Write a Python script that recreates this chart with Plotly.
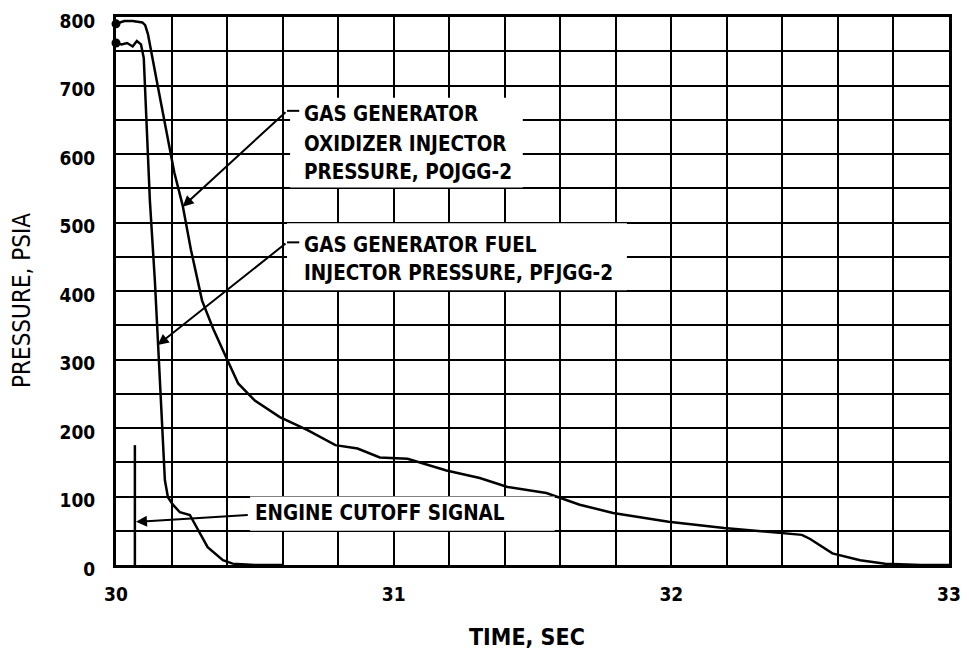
import plotly.graph_objects as go

# oxidizer injector pressure, POJGG-2
ox_time = [30.0, 30.03, 30.06, 30.095, 30.105, 30.115, 30.15, 30.18, 30.21, 30.24, 30.27,
           30.31, 30.35, 30.39, 30.44, 30.5, 30.59, 30.69, 30.79, 30.87, 30.95, 31.05,
           31.19, 31.31, 31.41, 31.55, 31.67, 31.79, 31.89, 31.99, 32.19, 32.39, 32.47,
           32.5, 32.54, 32.58, 32.68, 32.77, 32.9, 33.0]
ox_psia = [790, 794, 794, 792, 788, 775, 700, 634, 573, 525, 460,
           386, 345, 309, 265, 240, 216, 197, 175, 170, 157, 155,
           138, 127, 114, 105, 88, 76, 70, 63, 54, 47, 44,
           38, 27, 17, 7, 2, 0, 0]

# fuel injector pressure, PFJGG-2
fuel_time = [30.0, 30.02, 30.04, 30.06, 30.075, 30.09, 30.1, 30.122, 30.14, 30.151,
             30.158, 30.176, 30.187, 30.205, 30.23, 30.266, 30.29, 30.33, 30.385,
             30.42, 30.5, 30.6]
fuel_psia = [762, 760, 762, 757, 765, 760, 740, 532, 415, 318,
             270, 124, 99, 88, 77, 73, 55, 26, 7,
             2, 0, 0]

# engine cutoff signal
cutoff_time = [30.068, 30.068]
cutoff_level = [0, 175]

x_ticks = [30, 31, 32, 33]
y_ticks = [0, 100, 200, 300, 400, 500, 600, 700, 800]

FAMILY = "DejaVu Sans Condensed"
BOLD = dict(family=FAMILY, size=20.5, color="black", weight="bold")
TICKS = dict(family=FAMILY, size=19, color="black", weight="bold")

fig = go.Figure()
for t, p in [(ox_time, ox_psia), (fuel_time, fuel_psia)]:
    fig.add_trace(go.Scatter(x=t, y=p, mode="lines", line=dict(color="black", width=2.5),
                             hoverinfo="skip", cliponaxis=False))
    fig.add_trace(go.Scatter(x=t[:1], y=p[:1], mode="markers",
                             marker=dict(color="black", size=9), hoverinfo="skip",
                             cliponaxis=False))
fig.add_trace(go.Scatter(x=cutoff_time, y=cutoff_level, mode="lines",
                         line=dict(color="black", width=2.5), hoverinfo="skip"))

# white label boxes that break the grid
boxes = [(30.627, 31.465, 551, 682), (30.616, 31.84, 401, 499), (30.483, 31.58, 50, 100)]
for x0, x1, y0, y1 in boxes:
    fig.add_shape(type="rect", x0=x0, x1=x1, y0=y0, y1=y1, xref="x", yref="y",
                  fillcolor="white", line_width=0, layer="above")

labels = [
    ("GAS GENERATOR", 30.67, 659),
    ("OXIDIZER INJECTOR", 30.67, 615),
    ("PRESSURE, POJGG-2", 30.67, 573),
    ("GAS GENERATOR FUEL", 30.67, 467),
    ("INJECTOR PRESSURE, PFJGG-2", 30.67, 426),
    ("ENGINE CUTOFF SIGNAL", 30.495, 76),
]
for txt, x, y in labels:
    fig.add_annotation(text=txt, x=x, y=y, xanchor="left", yanchor="middle",
                       showarrow=False, font=BOLD)

# leader arrows: (tip x, tip y, tail x, tail y)
arrows = [(30.24, 523, 30.616, 663), (30.15, 321, 30.616, 471), (30.072, 63, 30.48, 73)]
for x, y, ax, ay in arrows:
    fig.add_annotation(x=x, y=y, ax=ax, ay=ay, axref="x", ayref="y", text="",
                       showarrow=True, arrowhead=2, arrowsize=1.1, arrowwidth=2,
                       arrowcolor="black")
# short dashes joining leaders to the text
for x0, x1, y in [(30.616, 30.66, 663), (30.616, 30.66, 471)]:
    fig.add_shape(type="line", x0=x0, x1=x1, y0=y, y1=y, xref="x", yref="y",
                  line=dict(color="black", width=2), layer="above")

# axis titles
fig.add_annotation(text="TIME, SEC", xref="paper", yref="paper", x=0.5, y=0,
                   xshift=-6, yshift=-72, showarrow=False, yanchor="middle",
                   font=dict(family=FAMILY, size=23, color="black", weight="bold"))
fig.add_annotation(text="PRESSURE, PSIA", xref="paper", yref="paper", x=0, y=0.5,
                   xshift=-94, yshift=-10, showarrow=False, textangle=-90,
                   xanchor="center",
                   font=dict(family=FAMILY, size=24, color="black"))

# the page body adds an 8px margin on every side, so the figure is made smaller
# and the margins shifted to keep the plot where the reference has it
fig.update_layout(
    width=953, height=642,
    margin=dict(l=108, r=12, t=9, b=85),
    plot_bgcolor="white", paper_bgcolor="white",
    showlegend=False,
    xaxis=dict(
        range=[30, 33], tickvals=x_ticks, ticks="", showgrid=False, zeroline=False,
        automargin=False, ticklabeloverflow="allow",
        showline=True, linecolor="black", linewidth=3, mirror=True,
        minor=dict(dtick=0.2, showgrid=True, gridcolor="black", gridwidth=2),
        tickfont=TICKS, ticklabelstandoff=10,
    ),
    yaxis=dict(
        range=[0, 800], tickvals=y_ticks, ticks="", showgrid=True, gridcolor="black",
        gridwidth=2, zeroline=False, automargin=False, ticklabeloverflow="allow",
        showline=True, linecolor="black", linewidth=3, mirror=True,
        minor=dict(dtick=50, showgrid=True, gridcolor="black", gridwidth=2),
        tickfont=TICKS, ticklabelstandoff=14, ticklabelshift=4,
    ),
)

fig.write_html("out.html")
